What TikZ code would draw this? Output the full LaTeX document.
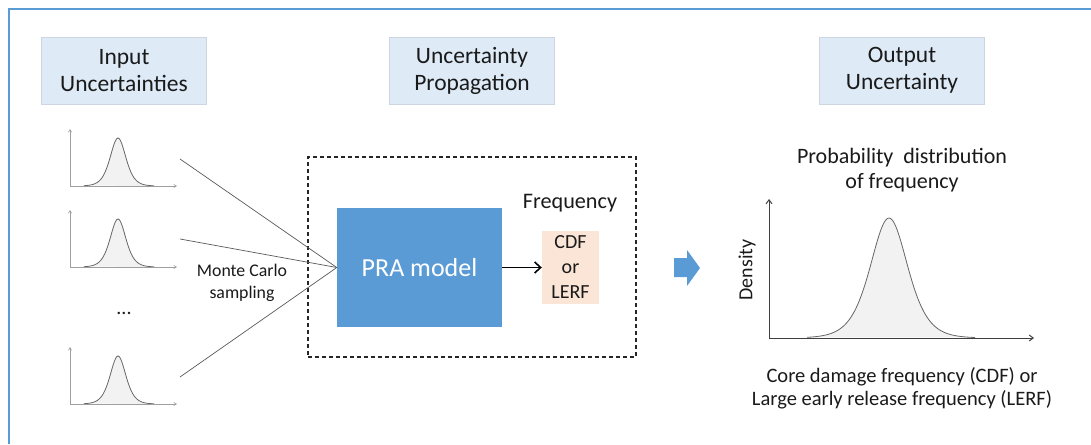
\documentclass[tikz,border=0pt]{standalone}
\usepackage{fontspec}
\setmainfont{Carlito}
\usetikzlibrary{arrows.meta}
\definecolor{hdr}{HTML}{DEEBF7}
\definecolor{hdredge}{HTML}{CDD6E0}
\definecolor{pra}{HTML}{5B9BD5}
\definecolor{peach}{HTML}{FBE5D6}
\definecolor{curvefill}{HTML}{F2F2F2}
\definecolor{txt}{HTML}{1A1A1A}
\definecolor{frame}{HTML}{5B9BD5}
\tikzset{
  header/.style={fill=hdr, draw=hdredge, line width=0.6pt, minimum width=165pt, minimum height=67pt,
    align=center, text=txt, font=\fontsize{23.5}{27}\selectfont, inner sep=0pt},
  lbl/.style={align=center, text=txt, inner sep=0pt},
  smallaxis/.style={draw=gray!75, line width=0.7pt, -{Straight Barb[length=2.5pt,width=3pt]}},
  bigaxis/.style={draw=black!75, line width=1pt, -{Straight Barb[length=4pt,width=6pt]}},
  curve/.style={draw=gray!80!black, line width=0.8pt, fill=curvefill},
  feed/.style={draw=black!65, line width=0.7pt}
}
\begin{document}
\begin{tikzpicture}[x=1pt,y=-1pt]
\useasboundingbox (0,0) rectangle (1091,444);
% frame
\draw[frame, line width=1.3pt] (9,444) -- (9,9) -- (1091,9);

% headers
\node[header] (h1) at (124,70.5) {Input\\Uncertainties};
\node[header] (h2) at (472,70.5) {Uncertainty\\Propagation};
\node[header] (h3) at (902,70.5) {Output\\Uncertainty};

% small distributions
\foreach \b/\nm in {186/a, 267/b, 404/c}{
  \draw[curve] plot[domain=-34:36, samples=70, smooth] ({118+\x},{\b-48/(cosh(\x/10.5))^2});
  \draw[smallaxis] (70,\b) -- (177,\b);
  \draw[smallaxis] (70,\b) -- (70,\b-57);
}
\node[lbl, font=\fontsize{20}{24}\selectfont] (dots) at (124,313) {...};

% dashed box
\node[draw=black!85, dash pattern=on 4pt off 3pt, line width=1.1pt, minimum width=328pt, minimum height=200pt, inner sep=0pt] (dbox) at (472,257) {};

% PRA model
\node[fill=pra, minimum width=165pt, minimum height=119pt, inner sep=0pt, text=white, font=\fontsize{26}{30}\selectfont] (pra) at (419.5,267.5) {PRA model};

% CDF box
\node[fill=peach, minimum width=57pt, minimum height=73pt, inner sep=0pt, lbl, font=\fontsize{20}{25}\selectfont] (cdf) at (570.5,267.5) {CDF\\or\\LERF};
\node[lbl, font=\fontsize{22.2}{25}\selectfont] (freq) at (570,203) {Frequency};
\draw[-{Straight Barb[length=6pt,width=11pt]}, line width=1.6pt, black] (pra) -- (cdf);

% feeding lines
\coordinate (f1) at (180,159);
\coordinate (f2) at (180,239);
\coordinate (f3) at (180,377);
\draw[feed] (f1) -- (pra.west);
\draw[feed] (f2) -- (pra.west);
\draw[feed] (f3) -- (pra.west);
\node[lbl, font=\fontsize{17.8}{22}\selectfont] (mc) at (242,283) {Monte Carlo\\sampling};

% block arrow
\fill[pra] (674,258) -- (687,258) -- (687,250) -- (700,268) -- (687,286) -- (687,277) -- (674,277) -- cycle;

% output distribution
\node[lbl, font=\fontsize{22}{25}\selectfont] (pd) at (902,170.5) {Probability\ \ distribution\\of frequency};
\draw[curve] plot[domain=-82:86, samples=120, smooth] ({889+\x},{338-120/(cosh(\x/25))^2});
\draw[bigaxis] (769,338) -- (1034,338);
\draw[bigaxis] (769,338) -- (769,199);
\node[lbl, rotate=90, font=\fontsize{20}{24}\selectfont] (dens) at (747,270) {Density};
\node[lbl, font=\fontsize{20.5}{23.5}\selectfont] (cap) at (902,388.5) {Core damage frequency (CDF) or\\Large early release frequency (LERF)};
\end{tikzpicture}
\end{document}
